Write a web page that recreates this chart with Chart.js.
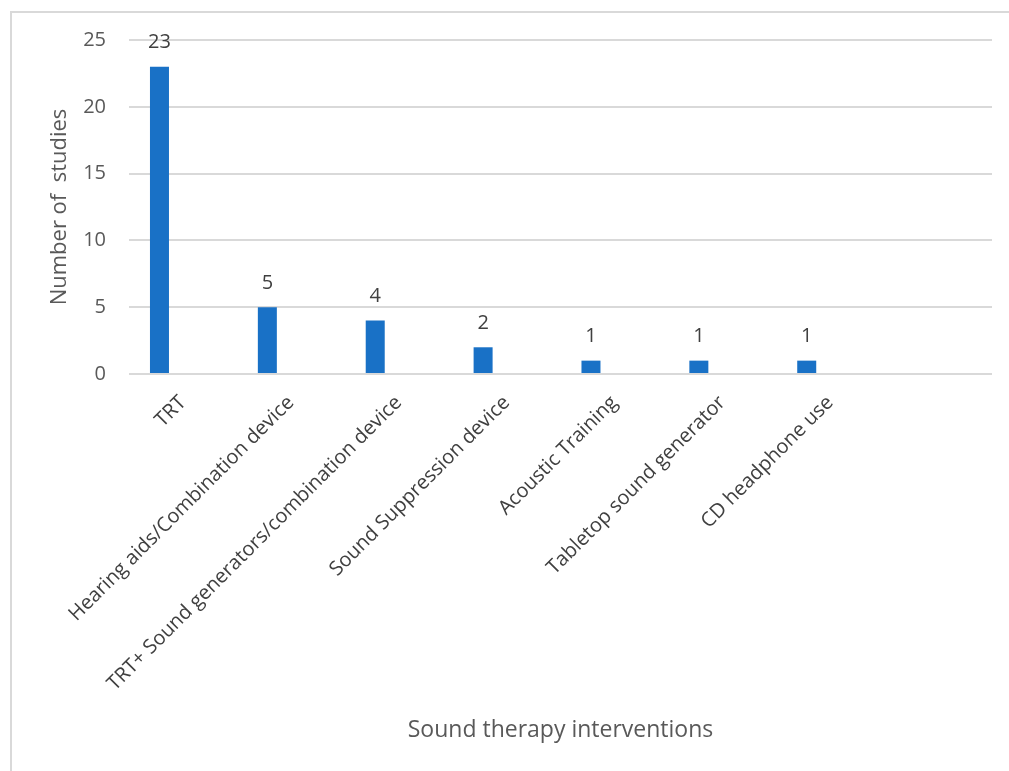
<!DOCTYPE html>
<html>
<head>
<meta charset="utf-8">
<script src="https://cdn.jsdelivr.net/npm/chart.js@4"></script>
<style>
  html, body { margin: 0; padding: 0; background: #fff; }
  #wrap { position: relative; width: 1009px; height: 771px; }
  #frame { position: absolute; left: 10px; top: 11px; right: 0; bottom: 0;
           border-top: 2px solid #d9d9d9; border-left: 2px solid #d9d9d9; }
  canvas { position: absolute; left: 0; top: 0; }
</style>
</head>
<body>
<div id="wrap">
  <div id="frame"></div>
  <canvas id="chart" width="1009" height="771"></canvas>
</div>
<script>
// categories (last slot is empty in the original sheet)
const categories = [
  "TRT",
  "Hearing aids/Combination device",
  "TRT+ Sound generators/combination device",
  "Sound Suppression device",
  "Acoustic Training",
  "Tabletop sound generator",
  "CD headphone use",
  ""
];
const studies = [23, 5, 4, 2, 1, 1, 1, null];
const emptySeries = [null, null, null, null, null, null, null, null];
const yTicks = [0, 5, 10, 15, 20, 25];

const FONT = "'Open Sans', 'Noto Sans', sans-serif";

// value labels above bars
const barLabels = {
  id: "barLabels",
  afterDatasetsDraw(chart) {
    const ctx = chart.ctx;
    const meta = chart.getDatasetMeta(0);
    ctx.save();
    ctx.font = "20px " + FONT;
    ctx.fillStyle = "#404040";
    ctx.textAlign = "center";
    ctx.textBaseline = "middle";
    meta.data.forEach((bar, i) => {
      if (studies[i] == null) return;
      ctx.fillText(String(studies[i]), bar.x, bar.y - 24);
    });
    ctx.restore();
  }
};

new Chart(document.getElementById("chart").getContext("2d"), {
  type: "bar",
  data: {
    labels: categories,
    datasets: [
      {
        label: "Number of studies",
        data: studies,
        backgroundColor: "#1971c6",
        barPercentage: 0.405,
        categoryPercentage: 0.87
      },
      {
        label: "",
        data: emptySeries,
        backgroundColor: "transparent",
        barPercentage: 0.405,
        categoryPercentage: 0.87
      }
    ]
  },
  options: {
    responsive: false,
    animation: false,
    layout: { padding: { left: 0, right: 17, top: 40, bottom: 0 } },
    plugins: {
      legend: { display: false },
      tooltip: { enabled: false }
    },
    scales: {
      x: {
        grid: { display: false, drawTicks: false },
        border: { display: false },
        ticks: {
          color: "#404040",
          font: { family: FONT, size: 20 },
          minRotation: 45,
          maxRotation: 45,
          autoSkip: false,
          padding: 17
        },
        title: {
          display: true,
          text: "Sound therapy interventions",
          color: "#595959",
          font: { family: FONT, size: 23 },
          padding: { top: 0, bottom: 27 }
        },
        afterFit(scale) { scale.height = 397; }
      },
      y: {
        min: 0,
        max: 25,
        afterBuildTicks(scale) { scale.ticks = yTicks.map(v => ({ value: v })); },
        grid: { color: "#d9d9d9", lineWidth: 2, drawTicks: false },
        border: { display: false },
        ticks: {
          color: "#595959",
          font: { family: FONT, size: 20 },
          padding: 23
        },
        title: {
          display: true,
          text: "Number of  studies",
          color: "#595959",
          font: { family: FONT, size: 22 },
          padding: { top: 47, bottom: 0 }
        },
        afterFit(scale) { scale.width = 129; }
      }
    }
  },
  plugins: [barLabels]
});
</script>
</body>
</html>
